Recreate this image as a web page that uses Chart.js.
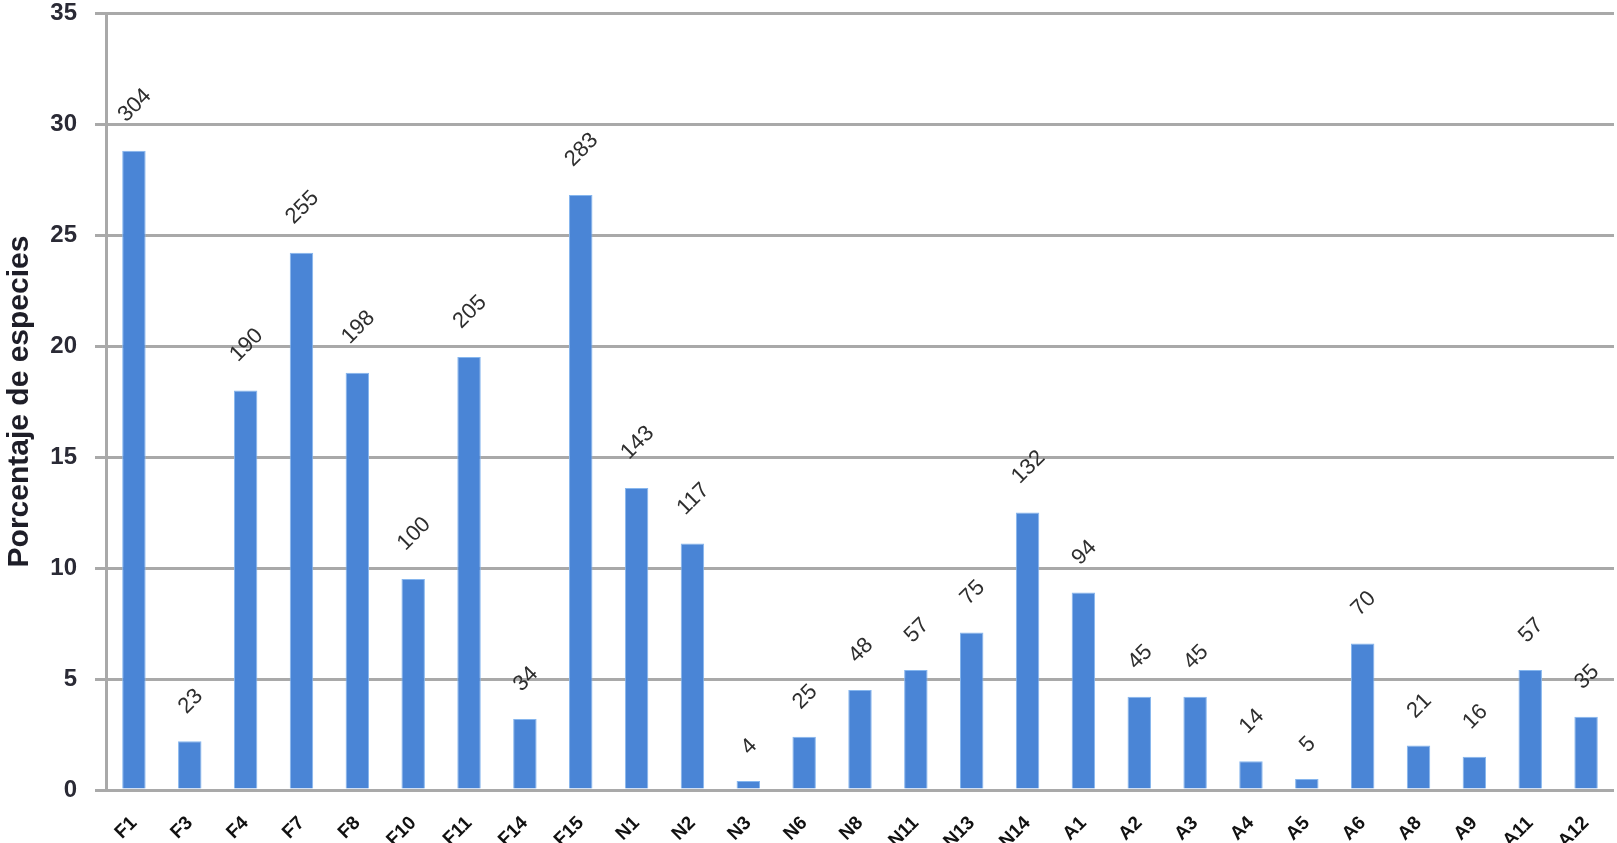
<!DOCTYPE html>
<html>
<head>
<meta charset="utf-8">
<script src="https://cdn.jsdelivr.net/npm/chart.js@4.4.0/dist/chart.umd.min.js"></script>
<style>
    html, body { margin: 0; padding: 0; background: #fff; overflow: hidden; }
    .wrap { width: 1617px; height: 843px; overflow: hidden; }
</style>
</head>
<body>
<div class="wrap"><canvas id="chart" width="1617" height="875"></canvas></div>
<script>
// categories (sampling sites)
const sites = ['F1', 'F3', 'F4', 'F7', 'F8', 'F10', 'F11', 'F14', 'F15',
    'N1', 'N2', 'N3', 'N6', 'N8', 'N11', 'N13', 'N14',
    'A1', 'A2', 'A3', 'A4', 'A5', 'A6', 'A8', 'A9', 'A11', 'A12'];
// bar heights: percentage of species
const percentages = [28.8, 2.2, 18.0, 24.2, 18.8, 9.5, 19.5, 3.2, 26.8,
    13.6, 11.1, 0.4, 2.4, 4.5, 5.4, 7.1, 12.5,
    8.9, 4.2, 4.2, 1.3, 0.5, 6.6, 2.0, 1.5, 5.4, 3.3];
// numbers written above the bars: species counts
const speciesCounts = [304, 23, 190, 255, 198, 100, 205, 34, 283,
    143, 117, 4, 25, 48, 57, 75, 132,
    94, 45, 45, 14, 5, 70, 21, 16, 57, 35];
const yTicks = [0, 5, 10, 15, 20, 25, 30, 35];

// rotated count labels above each bar
const countLabels = {
    id: 'countLabels',
    afterDatasetsDraw(chart) {
        const ctx = chart.ctx;
        const meta = chart.getDatasetMeta(0);
        ctx.save();
        ctx.font = '22px "Liberation Sans", Arial, sans-serif';
        ctx.fillStyle = '#2e2e2e';
        ctx.textAlign = 'center';
        ctx.textBaseline = 'middle';
        meta.data.forEach((bar, i) => {
            const text = String(speciesCounts[i]);
            const w = ctx.measureText(text).width;
            const lift = 21 + (w + 17) * 0.45;
            ctx.save();
            ctx.translate(bar.x + 1, bar.y - lift);
            ctx.rotate(-Math.PI / 4);
            ctx.fillText(text, 0, 0);
            ctx.restore();
        });
        ctx.restore();
    }
};

new Chart(document.getElementById('chart'), {
    type: 'bar',
    data: {
        labels: sites,
        datasets: [{
            data: percentages,
            backgroundColor: '#4a85d6',
            borderColor: '#86b6ee',
            borderWidth: 1,
            barPercentage: 0.42,
            categoryPercentage: 1
        }]
    },
    options: {
        responsive: false,
        animation: false,
        layout: { padding: { left: 0, top: 13, right: 3, bottom: 0 } },
        plugins: { legend: { display: false }, tooltip: { enabled: false } },
        scales: {
            x: {
                grid: { display: false, drawTicks: false },
                border: { display: false },
                ticks: {
                    autoSkip: false,
                    minRotation: 45,
                    maxRotation: 45,
                    padding: 22,
                    color: '#111',
                    font: { family: '"Liberation Sans", Arial, sans-serif', size: 19, weight: 'bold' }
                },
                afterFit(scale) {
                    scale.height = 85;
                    scale.paddingLeft = 0;
                    scale.paddingRight = 0;
                }
            },
            y: {
                min: 0,
                max: 35,
                afterBuildTicks(scale) { scale.ticks = yTicks.map(v => ({ value: v })); },
                grid: { color: '#a9a9a9', lineWidth: 3, tickLength: 11 },
                border: { display: true, color: '#a9a9a9', width: 3 },
                ticks: {
                    padding: 18,
                    color: '#2a2a35',
                    font: { family: '"Liberation Sans", Arial, sans-serif', size: 24, weight: 'bold', lineHeight: 1 }
                },
                title: {
                    display: true,
                    text: 'Porcentaje de especies',
                    color: '#1e1e28',
                    padding: { top: 2, bottom: 0 },
                    font: { family: '"Liberation Sans", Arial, sans-serif', size: 30, weight: 'bold', lineHeight: 1.2 }
                },
                afterFit(scale) {
                    scale.width = 106;
                    scale.paddingTop = 0;
                    scale.paddingBottom = 0;
                }
            }
        }
    },
    plugins: [countLabels]
});
</script>
</body>
</html>
